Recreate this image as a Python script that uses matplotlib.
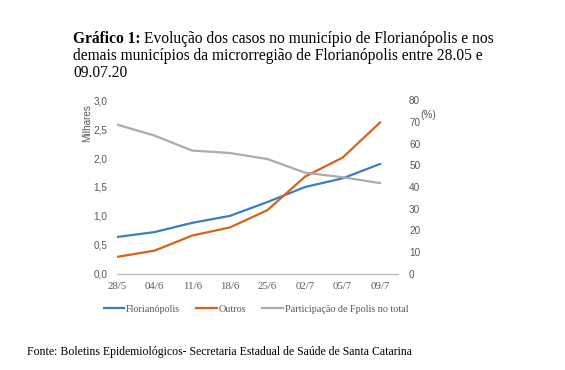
import matplotlib
matplotlib.use("Agg")
import matplotlib.pyplot as plt
from matplotlib.lines import Line2D

datas = ["28/5", "04/6", "11/6", "18/6", "25/6", "02/7", "05/7", "09/7"]
florianopolis = [0.635, 0.72, 0.88, 1.00, 1.24, 1.50, 1.65, 1.90]
outros = [0.29, 0.40, 0.66, 0.80, 1.10, 1.68, 2.01, 2.62]
participacao = [68.8, 63.7, 56.8, 55.7, 52.9, 46.6, 44.5, 41.8]
y_left_ticks = [0.0, 0.5, 1.0, 1.5, 2.0, 2.5, 3.0]
y_right_ticks = [0, 10, 20, 30, 40, 50, 60, 70, 80]

c_blue = "#3C7DC0"
c_orange = "#D4641C"
c_gray = "#ABABAB"
c_text = "#595959"

fig = plt.figure(figsize=(5.65, 3.70), dpi=100)
ax = fig.add_axes([0.2071, 0.2603, 0.4973, 0.4686])
ax2 = ax.twinx()

x = list(range(len(datas)))
ax.plot(x, florianopolis, color=c_blue, lw=1.6, solid_capstyle="round")
ax.plot(x, outros, color=c_orange, lw=1.6, solid_capstyle="round")
ax2.plot(x, participacao, color=c_gray, lw=1.6, solid_capstyle="round")

ax.set_xlim(0, 7.47)
ax.set_ylim(0, 3.0)
ax2.set_ylim(0, 80)

for a in (ax, ax2):
    for s in a.spines.values():
        s.set_visible(False)
ax.spines["bottom"].set_visible(True)
ax.spines["bottom"].set_color("#BFBFBF")
ax.spines["bottom"].set_linewidth(1.0)

ax.set_xticks(x)
ax.set_xticklabels(datas, family="Liberation Serif", fontsize=7.8, color=c_text)
ax.tick_params(axis="x", length=0, pad=6)

ax.set_yticks(y_left_ticks)
ax.set_yticklabels([f"{v:.1f}".replace(".", ",") for v in y_left_ticks],
                   family="Liberation Sans", fontsize=7.2, color=c_text)
ax.tick_params(axis="y", length=0, pad=7)

ax2.set_yticks(y_right_ticks)
ax2.set_yticklabels([str(v) for v in y_right_ticks],
                    family="Liberation Sans", fontsize=7.2, color=c_text)
ax2.tick_params(axis="y", length=0, pad=8)

ax.text(-0.105, 0.87, "Milhares", transform=ax.transAxes, rotation=90,
        ha="center", va="center", fontsize=7.2, color=c_text, family="Liberation Sans")
ax.text(1.107, 0.915, "(%)", transform=ax.transAxes,
        ha="center", va="center", fontsize=7.2, color=c_text, family="Liberation Sans")

handles = [Line2D([], [], color=c_blue, lw=1.6),
           Line2D([], [], color=c_orange, lw=1.6),
           Line2D([], [], color=c_gray, lw=1.6)]
labels = ["Florianópolis", "Outros", "Participação de Fpolis no total"]
fig.legend(handles, labels, loc="center", bbox_to_anchor=(256 / 565, 1 - 309 / 370),
           ncol=3, frameon=False, handlelength=2.0, handletextpad=0.2,
           columnspacing=1.6, prop={"family": "Liberation Serif", "size": 7.3},
           labelcolor=c_text, borderpad=0, borderaxespad=0)

fs_title = 11.2
t1 = fig.text(73 / 565, 1 - 39 / 370, "Gráfico 1:", fontsize=fs_title,
              family="Liberation Serif", weight="bold", va="center")
fig.canvas.draw()
bb = t1.get_window_extent()
fig.text((bb.x1 + 3) / 565, 1 - 39 / 370,
         "Evolução dos casos no município de Florianópolis e nos",
         fontsize=fs_title, family="Liberation Serif", va="center")
fig.text(73 / 565, 1 - 56 / 370,
         "demais municípios da microrregião de Florianópolis entre 28.05 e",
         fontsize=fs_title, family="Liberation Serif", va="center")
fig.text(73 / 565, 1 - 73 / 370, "09.07.20",
         fontsize=fs_title, family="Liberation Serif", va="center")

fig.text(27 / 565, 1 - 352 / 370,
         "Fonte: Boletins Epidemiológicos- Secretaria Estadual de Saúde de Santa Catarina",
         fontsize=8.5, family="Liberation Serif", va="center")

fig.savefig("out.png", dpi=100, facecolor="white")
